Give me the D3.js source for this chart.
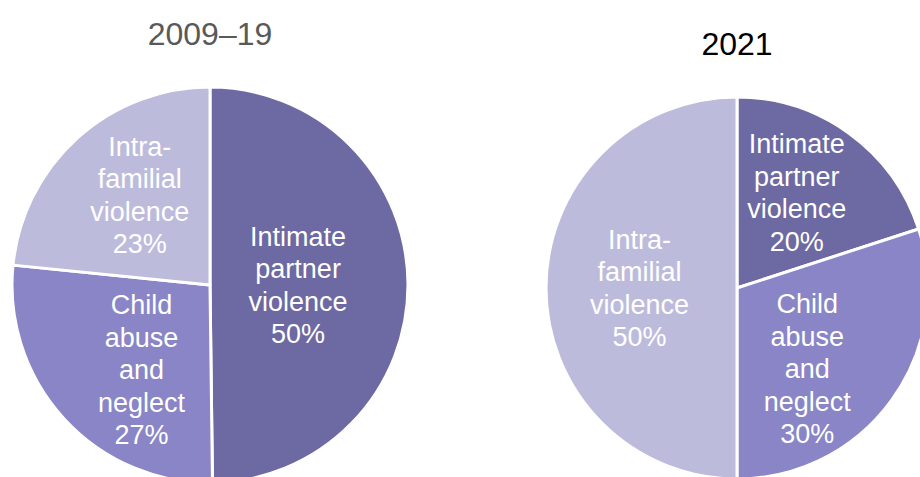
<!DOCTYPE html>
<html><head><meta charset="utf-8">
<script src="https://cdn.jsdelivr.net/npm/d3@7/dist/d3.min.js"></script>
<style>html,body{margin:0;padding:0;background:#fff;overflow:hidden}svg{display:block}</style>
</head><body>
<svg id="chart" width="920" height="477"></svg>
<script>
// ---- data ----
const categories = ["Intimate partner violence", "Child abuse and neglect", "Intra-familial violence"];
const labelLines = [["Intimate","partner","violence"], ["Child","abuse","and","neglect"], ["Intra-","familial","violence"]];
const titles = ["2009–19", "2021"];
const values2009 = [49.8, 26.8, 23.4];
const values2021 = [20, 30, 50];

// ---- style / layout ----
const colors = ["#6D69A2", "#8985C6", "#BDBBDC"];
const pies = [
  {title: titles[0], values: values2009, cx: 210, cy: 285, r: 198, titleY: 45, titleColor: "#595959",
   label: [[0.445, 90], [0.55, 219], [0.576, 322]]},
  {title: titles[1], values: values2021, cx: 737, cy: 288, r: 191, titleY: 55, titleColor: "#000000",
   label: [[0.59, 32], [0.56, 139], [0.51, 270]]}
];
const font = "'Liberation Sans', Arial, sans-serif";
const lineH = 32.5;

const svg = d3.select("#chart");
const pie = d3.pie().sort(null).value(d => d);

pies.forEach(p => {
  const g = svg.append("g").attr("transform", `translate(${p.cx},${p.cy})`);
  const arc = d3.arc().innerRadius(0).outerRadius(p.r);
  const arcs = pie(p.values);
  g.selectAll("path").data(arcs).join("path")
    .attr("d", arc)
    .attr("fill", (d, i) => colors[i])
    .attr("stroke", "#fff")
    .attr("stroke-width", 3)
    .attr("stroke-linejoin", "round");

  arcs.forEach((d, i) => {
    const [f, deg] = p.label[i];
    const a = deg * Math.PI / 180;
    const x = Math.sin(a) * f * p.r, y = -Math.cos(a) * f * p.r;
    const lines = labelLines[i].concat([Math.round(d.data) + "%"]);
    const t = g.append("text")
      .attr("font-family", font).attr("font-size", 27).attr("fill", "#fff")
      .attr("text-anchor", "middle");
    lines.forEach((ln, k) => {
      t.append("tspan").attr("x", x)
        .attr("y", y + (k - (lines.length - 1) / 2) * lineH)
        .attr("dy", "0.35em").text(ln);
    });
  });

  svg.append("text")
    .attr("x", p.cx).attr("y", p.titleY)
    .attr("text-anchor", "middle")
    .attr("font-family", font).attr("font-size", 32)
    .attr("fill", p.titleColor)
    .text(p.title);
});
</script>
</body></html>
